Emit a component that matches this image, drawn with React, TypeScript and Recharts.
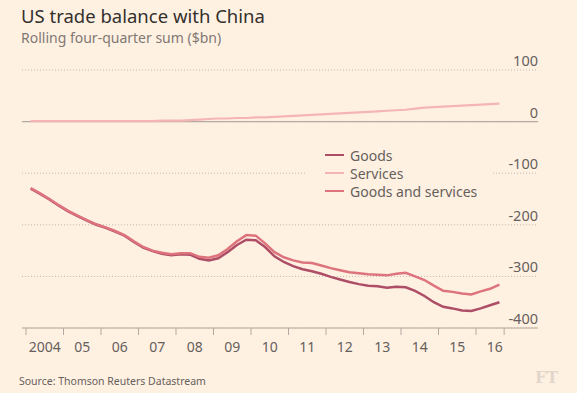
import { CartesianGrid, Line, LineChart, ReferenceLine, XAxis, YAxis } from "recharts";

const quarters = [
  "2004Q1", "2004Q2", "2004Q3", "2004Q4",
  "2005Q1", "2005Q2", "2005Q3", "2005Q4",
  "2006Q1", "2006Q2", "2006Q3", "2006Q4",
  "2007Q1", "2007Q2", "2007Q3", "2007Q4",
  "2008Q1", "2008Q2", "2008Q3", "2008Q4",
  "2009Q1", "2009Q2", "2009Q3", "2009Q4",
  "2010Q1", "2010Q2", "2010Q3", "2010Q4",
  "2011Q1", "2011Q2", "2011Q3", "2011Q4",
  "2012Q1", "2012Q2", "2012Q3", "2012Q4",
  "2013Q1", "2013Q2", "2013Q3", "2013Q4",
  "2014Q1", "2014Q2", "2014Q3", "2014Q4",
  "2015Q1", "2015Q2", "2015Q3", "2015Q4",
  "2016Q1", "2016Q2", "2016Q3",
];

const goods = [
  -130, -140, -151, -163,
  -174, -183, -192, -200,
  -206, -213, -221, -233,
  -244, -251, -256, -259,
  -257, -258, -266, -269,
  -265, -253, -239, -229,
  -230, -243, -261, -272,
  -280, -286, -290, -295,
  -301, -306, -311, -315,
  -318, -319, -322, -320,
  -321, -328, -338, -350,
  -359, -362, -366, -367,
  -362, -356, -350,
];

const services = [
  1, 1, 1, 1,
  1, 1, 1, 1,
  1, 1, 1, 1,
  1, 1, 2, 2,
  2, 3, 4, 5,
  6, 6, 7, 7,
  8, 8, 9, 10,
  11, 12, 13, 14,
  15, 16, 17, 18,
  19, 20, 21, 22,
  23, 25, 27, 28,
  29, 30, 31, 32,
  33, 34, 35,
];

const goodsAndServices = [
  -129, -139, -150, -162,
  -173, -182, -191, -199,
  -205, -212, -220, -232,
  -243, -250, -254, -257,
  -255, -255, -262, -264,
  -259, -247, -232, -220,
  -221, -236, -253, -263,
  -269, -273, -274, -279,
  -284, -288, -292, -294,
  -296, -297, -298, -295,
  -293, -300, -307, -318,
  -328, -330, -333, -335,
  -329, -324, -316,
];

const yearTicks = [2004, 2005, 2006, 2007, 2008, 2009, 2010, 2011, 2012, 2013, 2014, 2015, 2016, 2016.75];
const yearLabels = ["2004", "05", "06", "07", "08", "09", "10", "11", "12", "13", "14", "15", "16"];
const valueTicks = [-400, -300, -200, -100, 0, 100];

const seriesNames = ["Goods", "Services", "Goods and services"];
const seriesColors = ["#ad4d66", "#f5b5b7", "#dd737c"];

// quarter "2004Q1" -> mid-quarter position on a year scale
const data = quarters.map((q, i) => ({
  t: Number(q.slice(0, 4)) + (Number(q.slice(5)) - 0.5) / 4,
  goods: goods[i],
  services: services[i],
  total: goodsAndServices[i],
}));

const BG = "#fff1e2";
const TEXT = "#66605c";
const AXIS = "#b3aaa2";
const FONT = "'Noto Sans', sans-serif";
const PLOT_RIGHT = 538;

const XTick = ({ x, y, payload }) => {
  const idx = yearTicks.indexOf(payload.value);
  const label = yearLabels[idx];
  if (!label) return null;
  return (
    <text x={x + 18.75} y={y + 15} textAnchor="middle" fill={TEXT} fontSize={14} fontFamily={FONT}>
      {label}
    </text>
  );
};

const YTick = ({ y, payload }) => (
  <text x={PLOT_RIGHT} y={y - 4} textAnchor="end" fill={TEXT} fontSize={14.5} fontFamily={FONT}>
    {payload.value}
  </text>
);

export default function App() {
  return (
    <div style={{ position: "absolute", left: 0, top: 0, width: 577, height: 393, background: BG, fontFamily: FONT }}>
      <div style={{ position: "absolute", left: 21, top: 3, fontSize: 18.5, color: "#33302e" }}>
        US trade balance with China
      </div>
      <div style={{ position: "absolute", left: 21, top: 28, fontSize: 14, color: "#7f7873" }}>
        Rolling four-quarter sum ($bn)
      </div>
      <div style={{ position: "absolute", left: 0, top: 0 }}>
        <LineChart width={577} height={393} data={data} margin={{ top: 70, right: 38, left: 22, bottom: 0 }}>
          <CartesianGrid vertical={false} stroke="#c2b8af" strokeDasharray="1 2" />
          <XAxis
            dataKey="t"
            type="number"
            domain={[2003.893, 2017.653]}
            ticks={yearTicks}
            allowDataOverflow
            height={65}
            stroke={AXIS}
            tickSize={7}
            tick={XTick}
            interval={0}
          />
          <YAxis
            orientation="right"
            width={1}
            domain={[-400, 100]}
            ticks={valueTicks}
            axisLine={false}
            tickLine={false}
            tick={YTick}
            interval={0}
          />
          <ReferenceLine y={0} stroke={AXIS} strokeWidth={1.2} />
          <Line dataKey="goods" name="Goods" stroke={seriesColors[0]} strokeWidth={2.5} dot={false} isAnimationActive={false} />
          <Line dataKey="services" name="Services" stroke={seriesColors[1]} strokeWidth={2.2} dot={false} isAnimationActive={false} />
          <Line dataKey="total" name="Goods and services" stroke={seriesColors[2]} strokeWidth={2.5} dot={false} isAnimationActive={false} />
        </LineChart>
      </div>
      <div
        style={{
          position: "absolute",
          left: 307,
          top: 146,
          background: BG,
          padding: "0 16px 0 18px",
          fontSize: 14,
          color: TEXT,
        }}
      >
        {seriesNames.map((name, i) => (
          <div key={name} style={{ display: "flex", alignItems: "center", height: 18 }}>
            <span style={{ width: 19, height: 2.5, background: seriesColors[i], marginRight: 6 }} />
            <span>{name}</span>
          </div>
        ))}
      </div>
      <div style={{ position: "absolute", left: 19, top: 374, fontSize: 10.5, color: TEXT }}>
        Source: Thomson Reuters Datastream
      </div>
      <div
        style={{
          position: "absolute",
          left: 535,
          top: 368,
          fontSize: 16,
          fontWeight: "bold",
          color: "#e3d6cb",
          fontFamily: "'DejaVu Serif', serif",
        }}
      >
        FT
      </div>
    </div>
  );
}
